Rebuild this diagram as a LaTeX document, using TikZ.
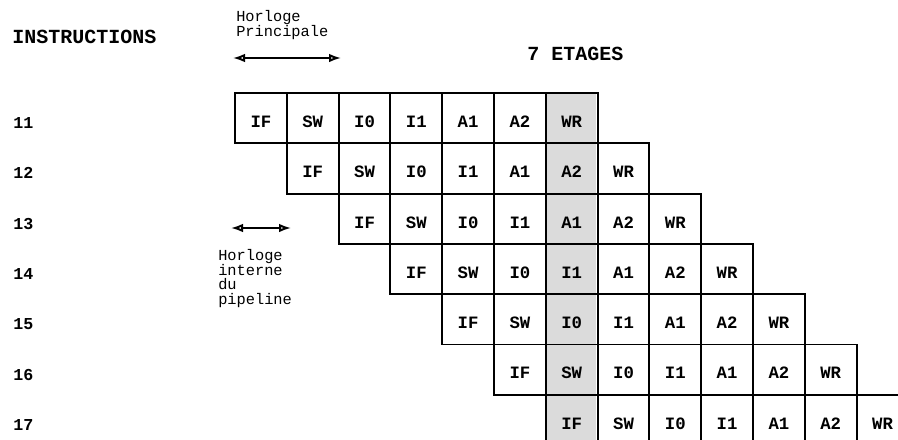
\documentclass[tikz,border=0pt]{standalone}
\usepackage{fontspec}
\setmainfont{Liberation Serif}
\setmonofont{Liberation Mono}
\usetikzlibrary{arrows.meta}
\begin{document}
\begin{tikzpicture}[x=0.75pt,y=-0.75pt,
  cell/.style={draw,line width=1.4pt,inner sep=0pt,outer sep=0pt,
    minimum width=38.85pt,minimum height=37.73pt,
    font=\ttfamily\bfseries\fontsize{13}{13}\selectfont,
    text height=14pt,text depth=0pt},
  shadecol/.style={fill=black!14},
  rowlbl/.style={anchor=west,inner sep=0pt,font=\ttfamily\bfseries\fontsize{12.5}{12.5}\selectfont},
  title/.style={anchor=west,inner sep=0pt,font=\ttfamily\bfseries\fontsize{15}{15}\selectfont},
  note/.style={anchor=north west,inner sep=0pt,align=left,font=\ttfamily\fontsize{11.5}{11}\selectfont},
  clockarrow/.style={line width=1.5pt,{Latex[open,length=9pt,width=6.5pt]}-{Latex[open,length=9pt,width=6.5pt]}}
]
\useasboundingbox (0,0) rectangle (898,439);
\clip (0,0) rectangle (898,439);
\fill[white] (0,0) rectangle (898,439);

% shaded column
\fill[shadecol] (544.6,93) rectangle (596.4,460);

% grid
\foreach \r in {1,...,7} {
  \foreach \t [count=\k from 0] in {IF,SW,I0,I1,A1,A2,WR} {
    \pgfmathsetmacro\cx{235+51.8*(\r-1+\k)+25.9}
    \pgfmathsetmacro\cy{93+50.3*(\r-1)+25.15}
    \node[cell] (c\r\k) at (\cx,\cy) {\t};
  }
  \pgfmathsetmacro\ly{93+50.3*(\r-1)+30}
  \node[rowlbl] (l\r) at (13,\ly) {1\r};
}

% titles
\node[title] (instr) at (12,37) {INSTRUCTIONS};
\node[title] (etages) at (527,53.5) {7 ETAGES};

% main clock
\node[note] (hp) at (236,10) {Horloge\\Principale};
\coordinate (hpa) at (233,58);
\coordinate (hpb) at (341,58);
\draw[clockarrow] (hpa) -- (hpb);

% internal clock
\coordinate (hia) at (231,228);
\coordinate (hib) at (291,228);
\draw[clockarrow] (hia) -- (hib);
\node[note] (hi) at (218,249) {Horloge\\interne\\du\\pipeline};
\end{tikzpicture}
\end{document}
